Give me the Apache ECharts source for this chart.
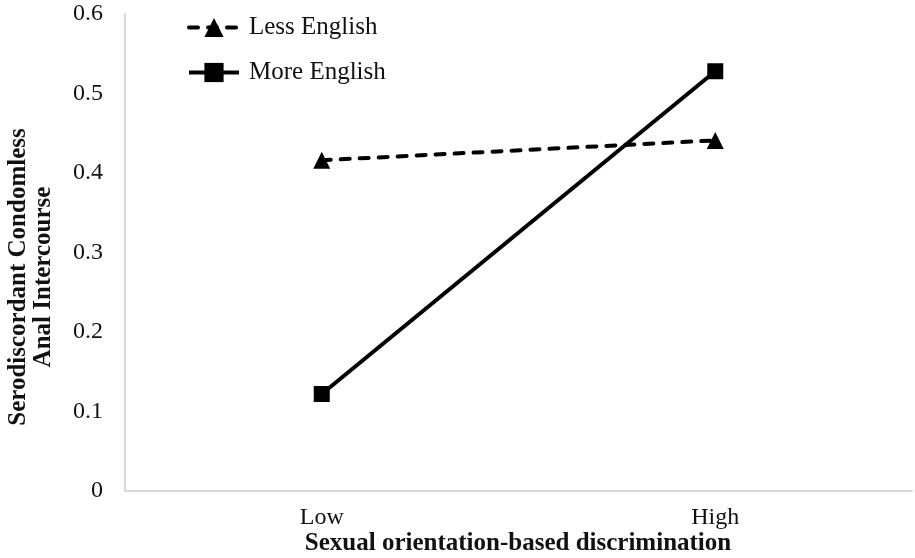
<!DOCTYPE html>
<html><head><meta charset="utf-8">
<script src="https://cdn.jsdelivr.net/npm/echarts@6/dist/echarts.min.js"></script>
<style>html,body{margin:0;padding:0;background:#fff}#c{width:915px;height:558px}</style>
</head><body><div id="c"></div>
<script>
const categories = ["Low", "High"];
const lessEnglish = [0.416, 0.441];
const moreEnglish = [0.122, 0.528];
const seriesNames = ["Less English", "More English"];
const yTitle = "Serodiscordant Condomless\nAnal Intercourse";
const xTitle = "Sexual orientation-based discrimination";

const font = "Liberation Serif";
const chart = echarts.init(document.getElementById('c'));
chart.setOption({
  animation: false,
  backgroundColor: '#fff',
  textStyle: {fontFamily: font},
  grid: {left: 125, right: 3, top: 14, bottom: 67, containLabel: false, outerBoundsMode: 'none'},
  legend: {
    orient: 'vertical', left: 187, top: 15, itemGap: 20, padding: 0,
    itemWidth: 50, itemHeight: 24,
    lineStyle: {width: 4},
    textStyle: {fontFamily: font, fontSize: 25, color: '#111', padding: [0, 0, 0, 5]},
    data: seriesNames
  },
  xAxis: {
    type: 'category', data: categories, boundaryGap: true,
    axisLine: {lineStyle: {color: '#d9d9d9', width: 2}},
    axisTick: {show: false},
    axisLabel: {fontFamily: font, fontSize: 24, color: '#111', margin: 15}
  },
  yAxis: {
    type: 'value', min: 0, max: 0.6, interval: 0.1,
    splitLine: {show: false},
    axisLine: {show: true, lineStyle: {color: '#d9d9d9', width: 2}},
    axisTick: {show: false},
    axisLabel: {fontFamily: font, fontSize: 24, color: '#111', margin: 22}
  },
  graphic: [{
    type: 'text', x: 31, y: 277, rotation: Math.PI / 2,
    style: {text: yTitle, font: 'bold 25px "Liberation Serif"', fill: '#111',
      textAlign: 'center', textVerticalAlign: 'middle', lineHeight: 25}
  }, {
    type: 'text', x: 518, y: 544,
    style: {text: xTitle, font: 'bold 25px "Liberation Serif"', fill: '#111',
      textAlign: 'center', textVerticalAlign: 'middle'}
  }],
  series: [
    {name: seriesNames[0], type: 'line', data: lessEnglish, symbol: 'triangle', symbolSize: 17,
      itemStyle: {color: '#000'},
      lineStyle: {color: '#000', width: 4, type: [9, 10], cap: 'round'}},
    {name: seriesNames[1], type: 'line', data: moreEnglish, symbol: 'rect', symbolSize: 16,
      itemStyle: {color: '#000'},
      lineStyle: {color: '#000', width: 4}}
  ]
});
</script></body></html>
